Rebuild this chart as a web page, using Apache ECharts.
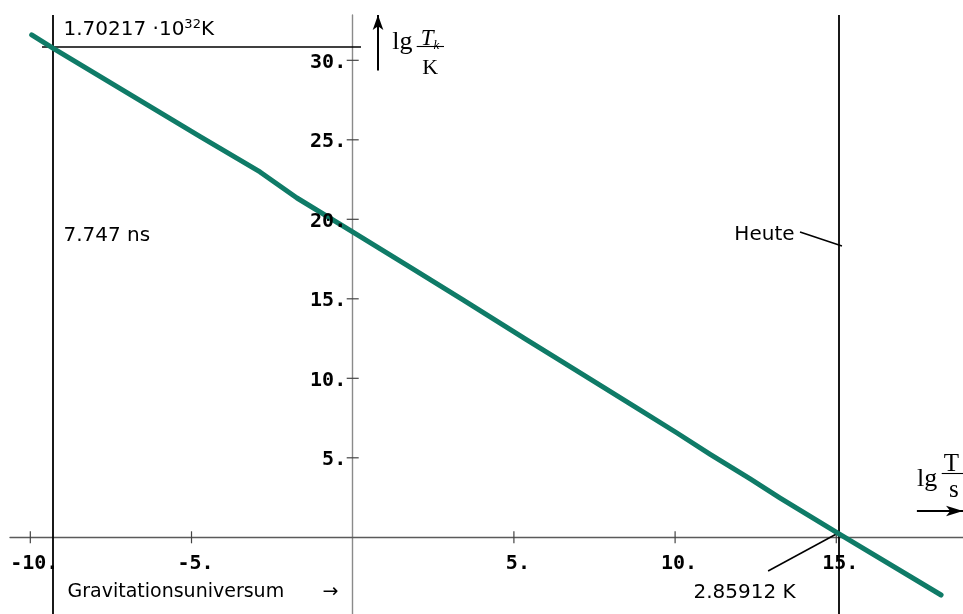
<!DOCTYPE html>
<html><head><meta charset="utf-8">
<script src="https://cdn.jsdelivr.net/npm/echarts@6/dist/echarts.min.js"></script>
<style>html,body{margin:0;padding:0;background:#fff}#c{width:963px;height:614px}</style>
</head><body><div id="c"></div>
<script>
// lg(T/s) -> lg(T_k/K)
const lgTime = [-9.957, -9.287, -4.73, -2.875, -1.728, 0.009, 1.777, 3.421, 5.40, 6.43, 7.77, 8.82, 10.06, 11.09, 12.33, 13.26, 15.06, 18.25];
const lgTemp = [31.60, 30.75, 25.20, 22.98, 21.34, 19.20, 17.00, 14.93, 12.41, 11.13, 9.45, 8.13, 6.56, 5.22, 3.67, 2.47, 0.25, -3.63];
const xTickValues = [-10, -5, 5, 10, 15];
const yTickValues = [5, 10, 15, 20, 25, 30];
const xTickLabels = ['-10.', '-5.', '5.', '10.', '15.'];
const yTickLabels = ['5.', '10.', '15.', '20.', '25.', '30.'];
const planckTimeLg = -9.305;   // 7.747 ns
const planckTempLg = 30.855;   // 1.70217e32 K
const todayLg = 15.084;        // Heute
const xRange = [-10.63, 18.93];
const yRange = [-4.824, 32.85];

const chart = echarts.init(document.getElementById('c'), null, {renderer: 'canvas'});
const sans = 'DejaVu Sans';
const serif = 'Liberation Serif';
const mono = 'DejaVu Sans Mono';
const ink = '#000';

function seg(a, b, opts) {
  return [Object.assign({coord: a, symbol: 'none'}, opts && opts.start), Object.assign({coord: b, symbol: 'none'}, opts && opts.end)];
}
function lbl(x, y, formatter, position, extra) {
  return {value: [x, y], label: Object.assign({show: true, formatter, position, distance: 0, color: ink, opacity: 1, fontFamily: sans, fontSize: 20}, extra || {})};
}

const tickRender = (horizontal) => (params, api) => {
  const c = api.coord([api.value(0), api.value(1)]);
  const shape = horizontal ? {x1: c[0] - 6, y1: c[1], x2: c[0] + 6, y2: c[1]} : {x1: c[0], y1: c[1] - 6, x2: c[0], y2: c[1] + 6};
  return {type: 'line', shape, style: {stroke: '#444', lineWidth: 1.2}};
};

const tickLabelStyle = {show: true, color: ink, opacity: 1, fontFamily: mono, fontWeight: 'bold', fontSize: 20};
const hiddenItem = {color: 'rgba(0,0,0,0)', opacity: 1};

const option = {
  animation: false,
  grid: {left: 10, right: 0, top: 15, bottom: 0, containLabel: false, outerBoundsMode: 'none'},
  xAxis: {
    type: 'value', min: xRange[0], max: xRange[1],
    axisLine: {onZero: true, lineStyle: {color: '#5a5a5a', width: 1.4}},
    axisTick: {show: false}, splitLine: {show: false}, axisLabel: {show: false}
  },
  yAxis: {
    type: 'value', min: yRange[0], max: yRange[1],
    axisLine: {onZero: true, lineStyle: {color: '#8a8a8a', width: 1.4}},
    axisTick: {show: false}, splitLine: {show: false}, axisLabel: {show: false}
  },
  series: [
    {type: 'custom', silent: true, z: 3, renderItem: tickRender(false), data: xTickValues.map(v => [v, 0])},
    {type: 'custom', silent: true, z: 3, renderItem: tickRender(true), data: yTickValues.map(v => [0, v])},
    {
      type: 'scatter', z: 6, silent: true, symbolSize: 1, itemStyle: hiddenItem,
      data: xTickValues.map((v, i) => ({value: [v, 0], label: Object.assign({formatter: xTickLabels[i], position: 'bottom', distance: 16, offset: [4, 0]}, tickLabelStyle)}))
    },
    {
      type: 'scatter', z: 6, silent: true, symbolSize: 1, itemStyle: hiddenItem,
      data: yTickValues.map((v, i) => ({value: [0, v], label: Object.assign({formatter: yTickLabels[i], position: 'left', distance: 7, offset: [1, 2]}, tickLabelStyle)}))
    },
    {
      type: 'line', data: [], silent: true, z: 4,
      markLine: {
        silent: true, animation: false, label: {show: false}, emphasis: {disabled: true},
        lineStyle: {color: '#000', type: 'solid', width: 1.8},
        data: [
          seg([planckTimeLg, yRange[1]], [planckTimeLg, yRange[0]]),
          seg([todayLg, yRange[1]], [todayLg, yRange[0]]),
          seg([-9.637, planckTempLg], [0.257, planckTempLg], {start: {lineStyle: {width: 1.6}}}),
          seg([13.874, 19.20], [15.176, 18.32], {start: {lineStyle: {width: 1.5}}}),
          seg([12.885, -2.12], [15.06, 0.27], {start: {lineStyle: {width: 1.5}}}),
          seg([1.985, planckTempLg], [2.832, planckTempLg], {start: {lineStyle: {width: 1.1}}}),
          seg([18.27, 4.025], [18.93, 4.025], {start: {lineStyle: {width: 1.1}}}),
          seg([0.785, 29.36], [0.785, yRange[1]], {start: {lineStyle: {width: 2}}, end: {symbol: 'arrow', symbolSize: [8, 15]}}),
          seg([17.50, 1.654], [18.93, 1.654], {start: {lineStyle: {width: 2}}, end: {symbol: 'arrow', symbolSize: [8, 17]}})
        ]
      }
    },
    {
      type: 'line', name: 'Tk', z: 5, silent: true,
      data: lgTime.map((t, i) => [t, lgTemp[i]]),
      showSymbol: false, symbol: 'none', smooth: false,
      lineStyle: {color: '#0f7b67', width: 5, cap: 'round', join: 'round'}
    },
    {
      type: 'scatter', z: 6, silent: true, symbolSize: 1,
      itemStyle: hiddenItem,
      data: [
        lbl(-8.986, 31.91, '{a|1.70217 ·10}{s|32}{a|K}', 'right', {rich: {
          a: {fontFamily: sans, fontSize: 20, color: ink, lineHeight: 24},
          s: {fontFamily: sans, fontSize: 13, color: ink, verticalAlign: 'top', lineHeight: 24}}}),
        lbl(-8.986, 18.95, '7.747 ns', 'right'),
        lbl(13.72, 19.03, 'Heute', 'left'),
        lbl(10.555, -3.50, '2.85912 K', 'right'),
        lbl(-8.862, -3.44, 'Gravitationsuniversum', 'right', {fontSize: 19}),
        lbl(-0.952, -3.44, '→', 'right', {fontSize: 19}),
        lbl(1.21, 31.12, 'lg', 'right', {fontFamily: serif, fontSize: 26}),
        lbl(2.40, 31.36, '{t|T}{k|k}', 'inside', {rich: {
          t: {fontFamily: serif, fontStyle: 'italic', fontSize: 23, color: ink, lineHeight: 26},
          k: {fontFamily: serif, fontStyle: 'italic', fontSize: 13, color: ink, verticalAlign: 'bottom', lineHeight: 26}}}),
        lbl(2.40, 29.53, 'K', 'inside', {fontFamily: serif, fontSize: 22}),
        lbl(17.49, 3.635, 'lg', 'right', {fontFamily: serif, fontSize: 26}),
        lbl(18.57, 4.60, 'T', 'inside', {fontFamily: serif, fontSize: 25}),
        lbl(18.65, 2.94, 's', 'inside', {fontFamily: serif, fontSize: 25})
      ]
    }
  ]
};
chart.setOption(option);
</script>
</body></html>
